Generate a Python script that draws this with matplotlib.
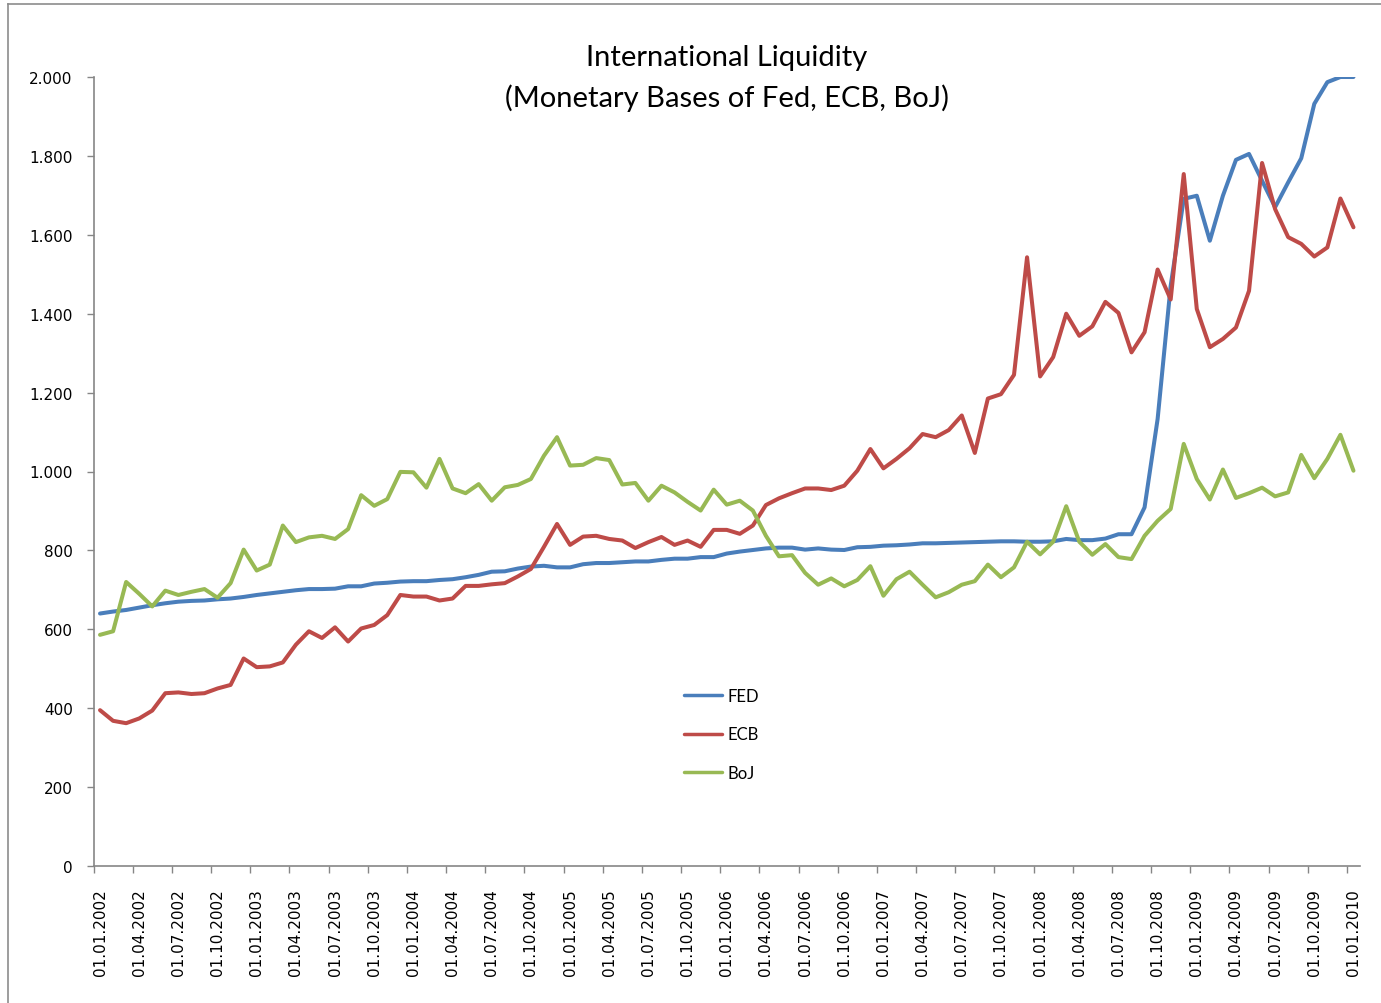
import matplotlib
matplotlib.use("Agg")
import matplotlib.pyplot as plt
from matplotlib.lines import Line2D
from matplotlib.ticker import FixedLocator, FuncFormatter

# ---------------- data ----------------
months = [f"01.{m:02d}.{y}" for y in range(2002, 2010) for m in range(1, 13)] + ["01.01.2010"]
tick_labels = months[::3]

fed = [640, 645, 649, 655, 661, 666, 670, 672, 673, 676, 678, 682,
       687, 691, 695, 699, 702, 702, 703, 709, 709, 716, 718, 721,
       722, 722, 725, 727, 732, 738, 746, 747, 754, 759, 761, 757,
       757, 765, 768, 768, 770, 772, 772, 776, 779, 779, 783, 783,
       792, 797, 801, 805, 807, 807, 802, 805, 802, 801, 808, 809,
       812, 813, 815, 818, 818, 819, 820, 821, 822, 823, 823, 822,
       822, 823, 829, 826, 826, 830, 841, 841, 909, 1133, 1471, 1691,
       1699, 1585, 1699, 1790, 1805, 1737, 1670, 1733, 1794, 1932, 1987, 2000,
       2000]

ecb = [395, 368, 362, 374, 394, 438, 440, 436, 438, 450, 459, 526,
       504, 506, 516, 561, 595, 578, 605, 569, 602, 611, 636, 687,
       683, 683, 673, 678, 710, 710, 714, 717, 734, 753, 809, 867,
       814, 835, 837, 829, 825, 806, 821, 834, 814, 825, 809, 852,
       852, 842, 863, 915, 932, 945, 957, 957, 953, 964, 1002, 1057,
       1008, 1032, 1059, 1095, 1087, 1105, 1142, 1047, 1185, 1196, 1245, 1543,
       1241, 1290, 1400, 1344, 1368, 1430, 1402, 1302, 1353, 1512, 1436, 1754,
       1412, 1315, 1336, 1365, 1458, 1782, 1665, 1594, 1577, 1545, 1568, 1692,
       1619]

boj = [586, 595, 720, 690, 658, 698, 687, 695, 702, 680, 717, 802,
       749, 764, 863, 821, 833, 837, 829, 854, 940, 913, 930, 999,
       998, 959, 1032, 957, 945, 968, 926, 960, 966, 981, 1040, 1087,
       1015, 1017, 1034, 1029, 967, 971, 926, 964, 947, 923, 901, 954,
       916, 926, 901, 837, 785, 788, 743, 713, 729, 709, 725, 760,
       685, 727, 746, 713, 681, 694, 713, 722, 764, 732, 757, 822,
       790, 822, 912, 822, 789, 816, 783, 778, 837, 875, 905, 1070,
       981, 929, 1005, 933, 945, 959, 937, 947, 1042, 983, 1032, 1093,
       1002]

series_names = ["FED", "ECB", "BoJ"]
series_colors = ["#4A7EBB", "#BE4B48", "#98B954"]
title_lines = ["International Liquidity", "(Monetary Bases of Fed, ECB, BoJ)"]

# ---------------- figure ----------------
W, H = 1381, 1004
fig = plt.figure(figsize=(W / 100, H / 100), dpi=100)
fig.patch.set_facecolor("white")

# outer chart frame (top and left visible)
fig.add_artist(Line2D([8 / W, 8 / W], [0, 1 - 5 / H], transform=fig.transFigure,
                      color="#8C8C8C", lw=1.2))
fig.add_artist(Line2D([8 / W, 1], [1 - 5 / H, 1 - 5 / H], transform=fig.transFigure,
                      color="#8C8C8C", lw=1.2))

left, right = 93.5 / W, 1360 / W
bottom, top = 1 - 867 / H, 1 - 78 / H
ax = fig.add_axes([left, bottom, right - left, top - bottom])

x = list(range(len(months)))
for vals, name, col in zip([fed, ecb, boj], series_names, series_colors):
    ax.plot(x, vals, color=col, lw=2.9, label=name, solid_joinstyle="round",
            solid_capstyle="round")

ax.set_xlim(-0.5, len(months) - 0.5)
ax.set_ylim(0, 2000)

# y axis
ax.set_yticks(range(0, 2001, 200))
ax.yaxis.set_major_formatter(FuncFormatter(lambda v, p: f"{int(v):,}".replace(",", ".")))
ax.tick_params(axis="y", direction="out", length=5, width=1, color="#868686",
               labelsize=11, pad=10, labelcolor="black")

# x axis: labels at category centres, tick marks at category boundaries
ax.set_xticks(x[::3])
ax.set_xticklabels(tick_labels, rotation=90, fontsize=11)
ax.xaxis.set_minor_locator(FixedLocator([i - 0.5 for i in x[::3]]))
ax.tick_params(axis="x", which="major", length=0, pad=16)
ax.tick_params(axis="x", which="minor", direction="out", length=5, width=1, color="#868686")

for s in ["top", "right"]:
    ax.spines[s].set_visible(False)
for s in ["left", "bottom"]:
    ax.spines[s].set_color("#868686")
    ax.spines[s].set_linewidth(1.2)

# title
fig.text((left + right) / 2, 1 - 58 / H, title_lines[0], ha="center", va="center",
         fontsize=21, family="Lato")
fig.text((left + right) / 2, 1 - 98 / H, title_lines[1], ha="center", va="center",
         fontsize=21, family="Lato")

# legend
leg = ax.legend(loc="upper left", bbox_to_anchor=(684 / W, 1 - 689 / H),
                bbox_transform=fig.transFigure, frameon=False,
                prop={"family": "Lato", "size": 12}, handlelength=2.3,
                handletextpad=0.3, labelspacing=1.35, borderpad=0, borderaxespad=0)
for h in leg.get_lines():
    h.set_linewidth(2.5)

fig.savefig("out.png", dpi=100, facecolor="white")
